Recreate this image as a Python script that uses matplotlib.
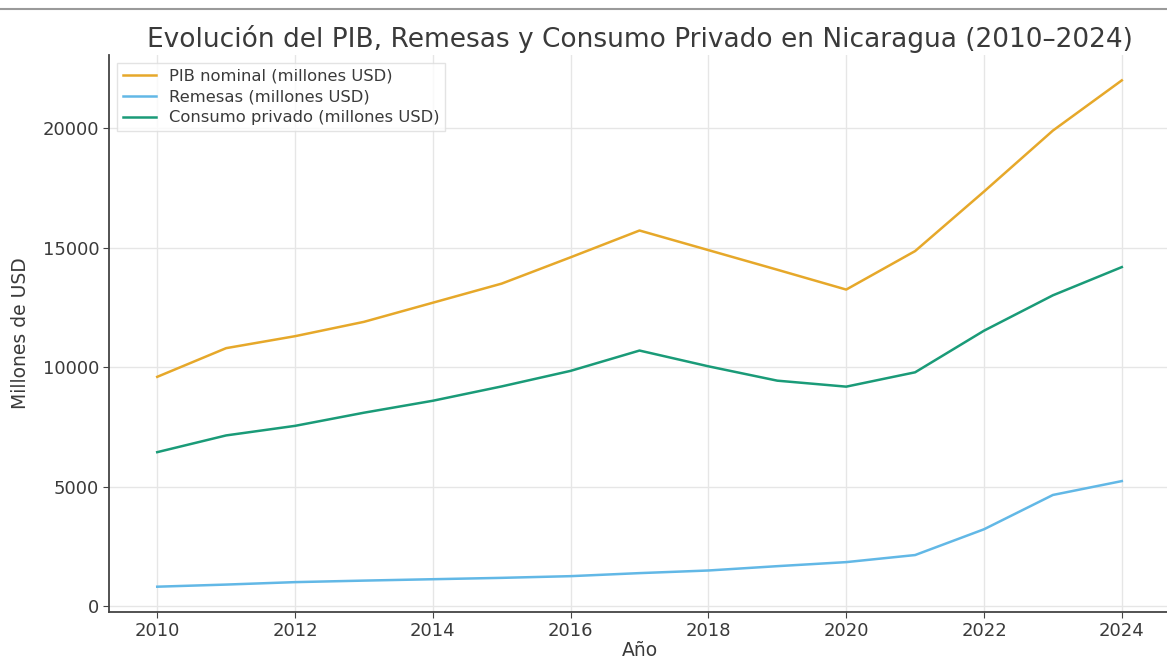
import matplotlib.pyplot as plt
from matplotlib.lines import Line2D

# Datos (millones de USD)
anios = [2010, 2011, 2012, 2013, 2014, 2015, 2016, 2017, 2018, 2019, 2020, 2021, 2022, 2023, 2024]
pib = [9600, 10800, 11300, 11900, 12700, 13500, 14600, 15720, 14900, 14080, 13250, 14860, 17350, 19900, 22000]
remesas = [823, 912, 1014, 1078, 1136, 1193, 1264, 1391, 1501, 1682, 1851, 2147, 3225, 4660, 5240]
consumo = [6450, 7150, 7550, 8100, 8600, 9200, 9850, 10700, 10040, 9440, 9190, 9790, 11530, 13010, 14190]

texto = '#3a3a3a'
plt.rcParams['font.family'] = 'DejaVu Sans'

fig = plt.figure(figsize=(11.67, 6.6), dpi=100)
ax = fig.add_axes([0.0934, 0.0727, 0.9092, 0.8439])

ax.plot(anios, pib, color='#E6A82A', linewidth=1.8, label='PIB nominal (millones USD)')
ax.plot(anios, remesas, color='#62B8E6', linewidth=1.8, label='Remesas (millones USD)')
ax.plot(anios, consumo, color='#1A9B78', linewidth=1.8, label='Consumo privado (millones USD)')

ax.set_title('Evolución del PIB, Remesas y Consumo Privado en Nicaragua (2010–2024)',
             fontsize=19, color=texto, pad=6)
ax.set_xlabel('Año', fontsize=13.5, color=texto, labelpad=1)
ax.set_ylabel('Millones de USD', fontsize=13.5, color=texto, labelpad=9)

ax.grid(True, color='#e6e6e6', linewidth=1)
ax.set_axisbelow(True)
for lado in ['top', 'right']:
    ax.spines[lado].set_visible(False)
for lado in ['left', 'bottom']:
    ax.spines[lado].set_color('#444444')
    ax.spines[lado].set_linewidth(1.3)
ax.tick_params(colors='#444444', labelcolor=texto, labelsize=13, length=4, pad=3)

ax.legend(loc='upper left', fontsize=11.8, frameon=True, edgecolor='#dddddd',
          fancybox=False, labelcolor=texto, handlelength=2.0, borderaxespad=0.5,
          borderpad=0.35, labelspacing=0.35)

# linea gris superior
fig.add_artist(Line2D([0, 1], [0.986, 0.986], color='#9a9a9a', linewidth=1.5))

fig.savefig('out.png', dpi=100)
